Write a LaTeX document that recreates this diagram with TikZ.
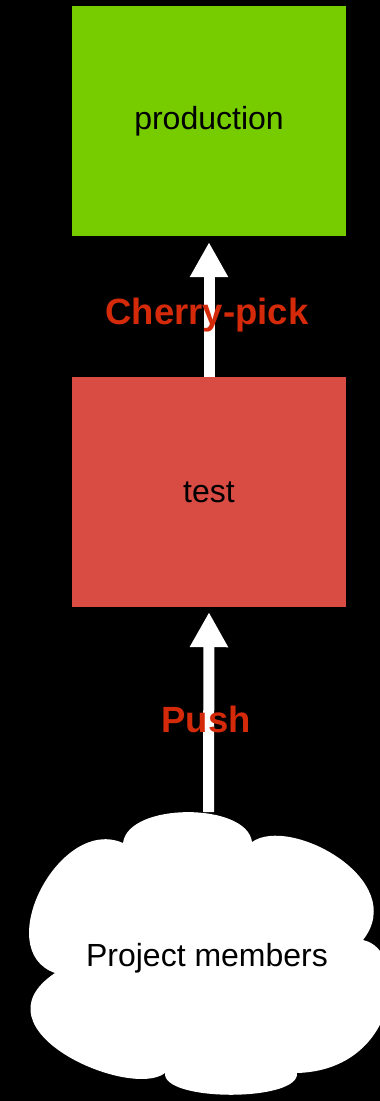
\documentclass[tikz,border=0pt]{standalone}
\usepackage{fontspec}
\setmainfont{Liberation Sans}
\usetikzlibrary{arrows.meta}
\definecolor{prodgreen}{HTML}{77CC00}
\definecolor{testred}{HTML}{D94C44}
\definecolor{labelred}{HTML}{D42A0A}
\tikzset{
  box/.style={minimum width=274pt, minimum height=230pt, inner sep=0pt, font=\fontsize{32}{36}\selectfont},
  flow/.style={draw=white, line width=11pt, -{Triangle[width=36pt,length=35pt]}},
  lbl/.style={text=labelred, font=\fontsize{36.5}{40}\selectfont\bfseries},
}
\begin{document}
\begin{tikzpicture}[x=1pt,y=-1pt]
\fill[black] (0,0) rectangle (380,1101);
\useasboundingbox (0,0) rectangle (380,1101);
\node[box, fill=prodgreen] (prod) at (209,121) {production};
\node[box, fill=testred] (test) at (209,492) {test};
% cloud
\fill[white] (123,843)
  .. controls (128,802) and (247,802) .. (252,842)
  .. controls (290,815) and (410,880) .. (363,940)
  .. controls (410,950) and (400,1070) .. (297,1073)
  .. controls (300,1102) and (162,1102) .. (165,1073)
  .. controls (130,1100) and (-30,1030) .. (55,973)
  .. controls (-10,950) and (60,815) .. (123,843) -- cycle;
\coordinate (cloudtop) at (208.5,812);
\node[font=\fontsize{32}{36}\selectfont] (members) at (207,958) {Project members};
\draw[flow, shorten >=6pt] (test.north) -- (prod.south);
\draw[flow, shorten >=5pt] (cloudtop) -- (test.south);
\node[lbl] (cp) at (207,315) {Cherry-pick};
\node[lbl] (push) at (206,719) {Push};
\end{tikzpicture}
\end{document}
